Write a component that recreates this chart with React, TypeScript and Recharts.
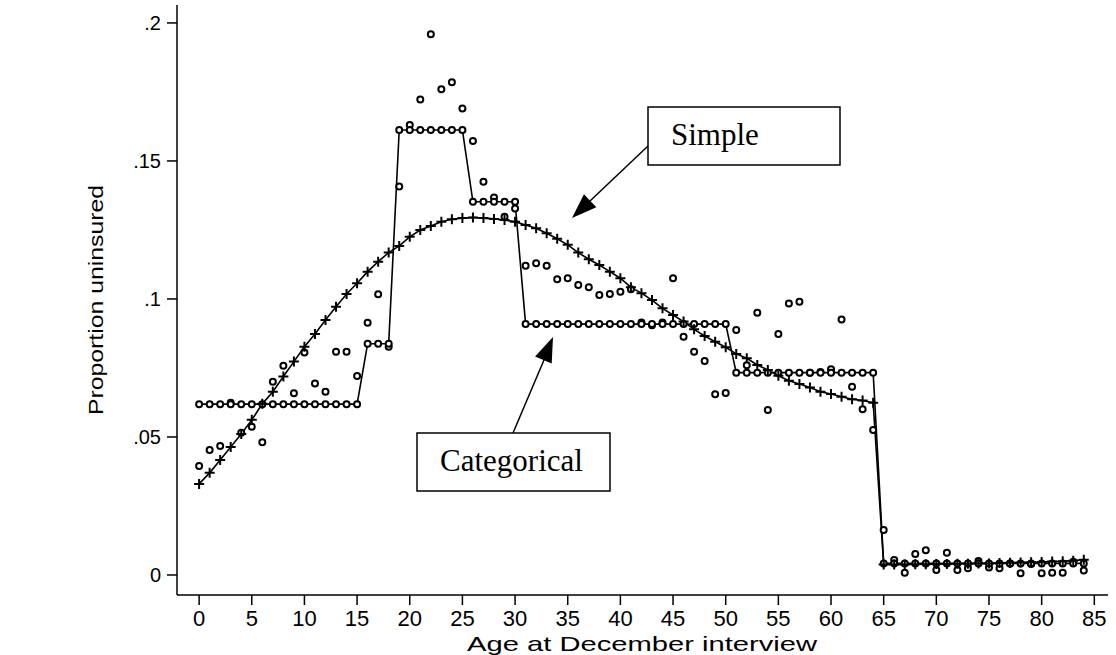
import React from "react";
import {
  ComposedChart,
  Line,
  Scatter,
  XAxis,
  YAxis,
} from "recharts";

// ages 0..84
const ages = Array.from({ length: 85 }, (_, i) => i);

// observed proportion uninsured, by age
const observed = [
  0.0395, 0.0453, 0.0467, 0.0624, 0.0515, 0.0537, 0.0481, 0.07, 0.0758, 0.0658,
  0.0806, 0.0694, 0.0664, 0.0809, 0.0809, 0.0721, 0.0914, 0.1017, 0.0827, 0.1407,
  0.163, 0.1723, 0.1959, 0.176, 0.1785, 0.169, 0.1572, 0.1425, 0.1368, 0.1298,
  0.1328, 0.112, 0.1129, 0.112, 0.1071, 0.1075, 0.1051, 0.1042, 0.1014, 0.1018,
  0.1026, 0.1035, 0.0915, 0.0905, 0.0915, 0.1075, 0.0863, 0.0809, 0.0775, 0.0655,
  0.0659, 0.0888, 0.076, 0.095, 0.0598, 0.0873, 0.0984, 0.099, 0.0733, 0.0735,
  0.0745, 0.0926, 0.0682, 0.06, 0.0525, 0.0163, 0.0054, 0.0008, 0.0076, 0.009,
  0.0018, 0.0081, 0.0018, 0.0024, 0.0051, 0.0027, 0.0024, 0.0042, 0.0006, 0.004,
  0.0006, 0.0008, 0.0008, 0.0048, 0.0016,
];

// categorical (age-group) fit
const categorical = [
  0.0619, 0.0619, 0.0619, 0.0619, 0.0619, 0.0619, 0.0619, 0.0619, 0.0619, 0.0619,
  0.0619, 0.0619, 0.0619, 0.0619, 0.0619, 0.0619, 0.0838, 0.0838, 0.0838, 0.1612,
  0.1612, 0.1612, 0.1612, 0.1612, 0.1612, 0.1612, 0.1352, 0.1352, 0.1352, 0.1352,
  0.1352, 0.0909, 0.0909, 0.0909, 0.0909, 0.0909, 0.0909, 0.0909, 0.0909, 0.0909,
  0.0909, 0.0909, 0.0909, 0.0909, 0.0909, 0.0909, 0.0909, 0.0909, 0.0909, 0.0909,
  0.0909, 0.0733, 0.0733, 0.0733, 0.0733, 0.0733, 0.0733, 0.0733, 0.0733, 0.0733,
  0.0733, 0.0733, 0.0733, 0.0733, 0.0733, 0.0042, 0.0042, 0.0042, 0.0042, 0.0042,
  0.0042, 0.0042, 0.0042, 0.0042, 0.0042, 0.0042, 0.0042, 0.0042, 0.0042, 0.0042,
  0.0042, 0.0042, 0.0042, 0.0042, 0.0042,
];

// simple (smooth polynomial) fit
const simple = [
  0.033, 0.037, 0.0417, 0.0464, 0.0511, 0.0562, 0.062, 0.0664, 0.0719, 0.0773,
  0.0827, 0.0873, 0.0924, 0.0972, 0.1018, 0.1057, 0.1099, 0.1135, 0.1168, 0.1192,
  0.1225, 0.125, 0.1264, 0.128, 0.1289, 0.1293, 0.1295, 0.1293, 0.129, 0.1286,
  0.128, 0.1268, 0.1256, 0.1238, 0.1218, 0.1196, 0.1168, 0.1144, 0.1123, 0.1099,
  0.1075, 0.1042, 0.1021, 0.0996, 0.0966, 0.0942, 0.0918, 0.089, 0.0866, 0.0845,
  0.0825, 0.0801, 0.0785, 0.0761, 0.0743, 0.0722, 0.0704, 0.0692, 0.0679, 0.0664,
  0.0656, 0.0646, 0.0637, 0.0632, 0.0624, 0.0038, 0.0038, 0.0038, 0.0039, 0.0039,
  0.004, 0.004, 0.0041, 0.0041, 0.0042, 0.0042, 0.0043, 0.0044, 0.0045, 0.0046,
  0.0047, 0.0049, 0.005, 0.0052, 0.0055,
];

const xTicks = [0, 5, 10, 15, 20, 25, 30, 35, 40, 45, 50, 55, 60, 65, 70, 75, 80, 85];
const yTicks = [0, 0.05, 0.1, 0.15, 0.2];

const rows = ages.map((age, i) => ({
  age,
  observed: observed[i],
  categorical: categorical[i],
  simple: simple[i],
}));

const sans = "'Liberation Sans', Arial, sans-serif";
const serif = "'Liberation Serif', 'Times New Roman', serif";

const Ring = ({ cx, cy, index, prefix }: any) => {
  if (cx == null || cy == null) return <g key={`${prefix}-${index}`} />;
  return (
    <circle
      key={`${prefix}-${index}`}
      cx={cx}
      cy={cy}
      r={3}
      fill="#fff"
      stroke="#000"
      strokeWidth={2}
    />
  );
};

const Plus = ({ cx, cy, index }: any) => {
  if (cx == null || cy == null) return <g key={`plus-${index}`} />;
  return (
    <path
      key={`plus-${index}`}
      d={`M${cx - 5},${cy}H${cx + 5}M${cx},${cy - 5}V${cy + 5}`}
      stroke="#000"
      strokeWidth={2}
      fill="none"
    />
  );
};

// filled arrow head pointing from (x1,y1) to (x2,y2)
function arrowHead(x1: number, y1: number, x2: number, y2: number) {
  const dx = x2 - x1;
  const dy = y2 - y1;
  const len = Math.sqrt(dx * dx + dy * dy);
  const ux = dx / len;
  const uy = dy / len;
  const bx = x2 - ux * 25;
  const by = y2 - uy * 25;
  const px = -uy * 9;
  const py = ux * 9;
  return `${x2},${y2} ${bx + px},${by + py} ${bx - px},${by - py}`;
}

const fmtY = (v: number) => (v === 0 ? "0" : String(v).replace(/^0/, ""));

export default function App() {
  return (
    <div
      style={{
        position: "absolute",
        left: 0,
        top: 0,
        width: 1116,
        height: 655,
        background: "#fff",
      }}
    >
      <ComposedChart
        width={1116}
        height={655}
        data={rows}
        margin={{ top: 5, right: 8, bottom: 0, left: 0 }}
      >
        <XAxis
          dataKey="age"
          type="number"
          domain={[-2.1, 86.3]}
          ticks={xTicks}
          interval={0}
          allowDataOverflow
          height={60}
          tickSize={10}
          tickMargin={5}
          stroke="#000"
          axisLine={{ stroke: "#000", strokeWidth: 1.5 }}
          tickLine={{ stroke: "#000", strokeWidth: 1.5 }}
          tick={{ fill: "#000", fontSize: 22, fontFamily: sans }}
        />
        <YAxis
          type="number"
          domain={[-0.00725, 0.2065]}
          ticks={yTicks}
          interval={0}
          allowDataOverflow
          width={177}
          tickSize={10}
          tickMargin={6}
          tickFormatter={fmtY}
          stroke="#000"
          axisLine={{ stroke: "#000", strokeWidth: 1.5 }}
          tickLine={{ stroke: "#000", strokeWidth: 1.5 }}
          tick={{ fill: "#000", fontSize: 20, fontFamily: sans }}
        />
        <Scatter
          dataKey="observed"
          isAnimationActive={false}
          shape={(p: any) => <Ring {...p} prefix="obs" />}
        />
        <Line
          dataKey="categorical"
          type="linear"
          stroke="#000"
          strokeWidth={1.6}
          isAnimationActive={false}
          dot={(p: any) => <Ring {...p} prefix="cat" />}
          activeDot={false}
        />
        <Line
          dataKey="simple"
          type="linear"
          stroke="#000"
          strokeWidth={1.6}
          isAnimationActive={false}
          dot={(p: any) => <Plus {...p} />}
          activeDot={false}
        />
      </ComposedChart>

      {/* axis titles and annotations */}
      <svg
        width={1116}
        height={655}
        style={{ position: "absolute", left: 0, top: 0, pointerEvents: "none" }}
      >
        <text
          x={95}
          y={300}
          transform="rotate(-90 95 300)"
          textAnchor="middle"
          dominantBaseline="central"
          fontSize={21}
          textLength={230}
          lengthAdjust="spacingAndGlyphs"
          fontFamily={sans}
          fill="#000"
        >
          Proportion uninsured
        </text>
        <text
          x={642}
          y={651}
          textAnchor="middle"
          fontSize={21}
          textLength={350}
          lengthAdjust="spacingAndGlyphs"
          fontFamily={sans}
          fill="#000"
        >
          Age at December interview
        </text>

        {/* Simple */}
        <line x1={648} y1={146} x2={590} y2={201} stroke="#000" strokeWidth={1.5} />
        <polygon points={arrowHead(648, 146, 572, 218)} fill="#000" />
        <rect x={648} y={107} width={192} height={58} fill="#fff" stroke="#000" strokeWidth={1.5} />
        <text x={671} y={145} fontSize={31} fontFamily={serif} fill="#000">
          Simple
        </text>

        {/* Categorical */}
        <line x1={513} y1={433} x2={544} y2={360} stroke="#000" strokeWidth={1.5} />
        <polygon points={arrowHead(513, 433, 553, 337)} fill="#000" />
        <rect x={417} y={433} width={193} height={58} fill="#fff" stroke="#000" strokeWidth={1.5} />
        <text x={440} y={471} fontSize={31} fontFamily={serif} fill="#000">
          Categorical
        </text>
      </svg>
    </div>
  );
}
